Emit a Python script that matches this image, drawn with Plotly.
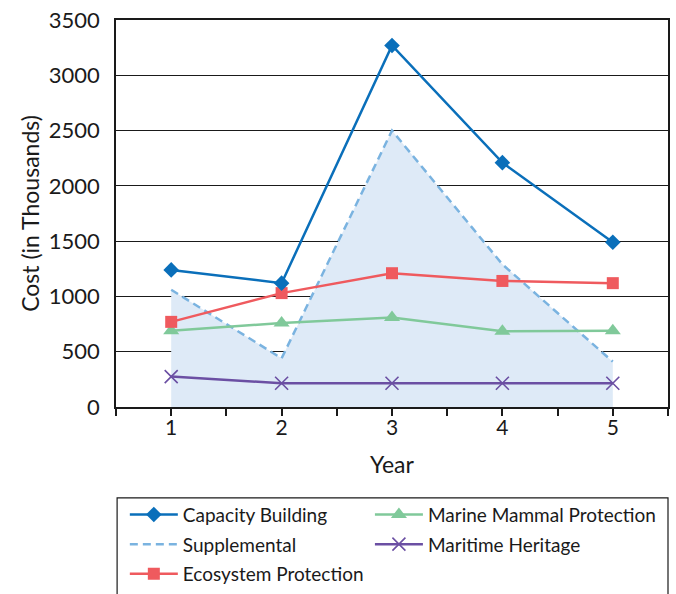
import plotly.graph_objects as go

years = [1, 2, 3, 4, 5]
capacity_building = [1240, 1120, 3270, 2210, 1490]
supplemental = [1060, 440, 2500, 1290, 410]
ecosystem_protection = [770, 1030, 1210, 1140, 1120]
marine_mammal = [690, 760, 810, 685, 690]
maritime_heritage = [275, 215, 215, 215, 215]

x_tick_vals = [0.5, 1, 1.5, 2, 2.5, 3, 3.5, 4, 4.5, 5, 5.5]
x_tick_text = ["", "1", "", "2", "", "3", "", "4", "", "5", ""]

FONT = "Lato"
INK = "#1a1a1a"

fig = go.Figure()

# area under the supplemental line (drawn first so it stays beneath the lines)
fig.add_trace(go.Scatter(
    x=years, y=supplemental, name="Supplemental", mode="lines",
    fill="tozeroy", fillcolor="#deeaf7", line=dict(width=0, color="#deeaf7"),
    showlegend=False, hoverinfo="skip"))
fig.add_trace(go.Scatter(
    x=years, y=supplemental, name="Supplemental", mode="lines",
    line=dict(color="#7ab3e0", width=2.5, dash="8px,5px"),
    legend="legend", legendgroup="g2", legendrank=2))
fig.add_trace(go.Scatter(
    x=years, y=maritime_heritage, name="Maritime Heritage", mode="lines+markers",
    line=dict(color="#6b4fa3", width=2.5),
    marker=dict(symbol="x-thin", size=13, line=dict(color="#6b4fa3", width=1.6)),
    legend="legend2", legendgroup="g5", legendrank=2))
fig.add_trace(go.Scatter(
    x=years, y=marine_mammal, name="Marine Mammal Protection", mode="lines+markers",
    line=dict(color="#80c99a", width=2.5),
    marker=dict(symbol="triangle-up", size=14, color="#80c99a"),
    legend="legend2", legendgroup="g4", legendrank=1))
fig.add_trace(go.Scatter(
    x=years, y=ecosystem_protection, name="Ecosystem Protection", mode="lines+markers",
    line=dict(color="#ef5a5e", width=2.5),
    marker=dict(symbol="square", size=12, color="#ef5a5e"),
    legend="legend", legendgroup="g3", legendrank=3))
fig.add_trace(go.Scatter(
    x=years, y=capacity_building, name="Capacity Building", mode="lines+markers",
    line=dict(color="#0a6fba", width=2.5),
    marker=dict(symbol="diamond", size=12, color="#0a6fba"),
    legend="legend", legendgroup="g1", legendrank=1))

legend_common = dict(
    orientation="v", yanchor="top", xanchor="left",
    traceorder="grouped", tracegroupgap=2, itemwidth=48,
    font=dict(family=FONT, size=19, color=INK),
    borderwidth=0, bgcolor="rgba(0,0,0,0)")

fig.update_layout(
    width=676, height=594,
    margin=dict(l=116, r=8, t=20, b=187, autoexpand=False),
    paper_bgcolor="white", plot_bgcolor="white",
    font=dict(family=FONT, size=21, color=INK),
    showlegend=True,
    legend=dict(x=0.016, y=-0.229, **legend_common),
    legend2=dict(x=0.46, y=-0.229, **legend_common),
    shapes=[dict(type="rect", xref="paper", yref="paper",
                 x0=0.002, x1=1.0, y0=-0.235, y1=-0.62,
                 line=dict(color=INK, width=1.2), fillcolor="rgba(0,0,0,0)")],
    xaxis=dict(
        range=[0.5, 5.5], tickmode="array", tickvals=x_tick_vals, ticktext=x_tick_text,
        ticks="outside", ticklen=7, tickwidth=1.5, tickcolor=INK,
        ticklabelstandoff=-6,
        showline=True, linecolor=INK, linewidth=2, mirror=True,
        showgrid=False, zeroline=False, automargin=False,
        tickfont=dict(size=21),
        title=dict(text="Year", font=dict(size=23), standoff=19)),
    yaxis=dict(
        range=[0, 3500], dtick=500, tick0=0,
        ticks="", ticklabelstandoff=10, ticklabeloverflow="allow",
        showline=True, linecolor=INK, linewidth=1.5, mirror=True,
        showgrid=True, gridcolor=INK, gridwidth=1.3,
        zeroline=False, automargin=False,
        tickfont=dict(size=22),
        title=dict(text="Cost (in Thousands)", font=dict(size=23), standoff=3)),
)

# remove the browser's default 8px body margin so the figure sits at the page corner
fig.write_html("out.html", config={"displayModeBar": False},
               post_script="document.body.style.margin='0';")
